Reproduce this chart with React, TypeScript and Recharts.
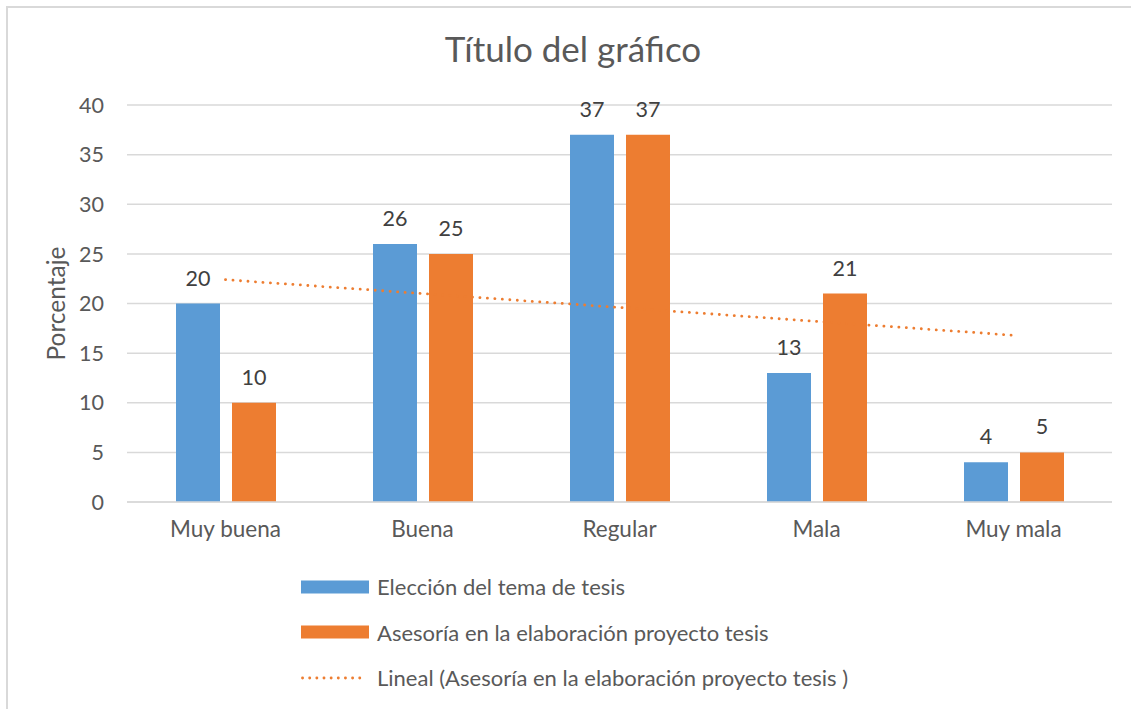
import React from 'react';
import { ComposedChart, Bar, Line, XAxis, YAxis, CartesianGrid, Legend, LabelList } from 'recharts';

// values
const categories = ['Muy buena', 'Buena', 'Regular', 'Mala', 'Muy mala'];
const eleccion = [20, 26, 37, 13, 4];
const asesoria = [10, 25, 37, 21, 5];
const lineal = [22.4, 21.0, 19.6, 18.2, 16.8];
const yTicks = [0, 5, 10, 15, 20, 25, 30, 35, 40];

const BLUE = '#5B9BD5';
const ORANGE = '#ED7D31';
const TEXT = '#595959';
const GRID = '#D9D9D9';
const FONT = 'Lato, "Open Sans", sans-serif';

const data = categories.map((name, i) => ({
  name,
  eleccion: eleccion[i],
  asesoria: asesoria[i],
  lineal: lineal[i],
}));

const legendItems = [
  { label: 'Elección del tema de tesis', color: BLUE, kind: 'box' },
  { label: 'Asesoría en la elaboración proyecto tesis', color: ORANGE, kind: 'box' },
  { label: 'Lineal (Asesoría en la elaboración proyecto tesis )', color: ORANGE, kind: 'dots' },
];

const LegendContent = () => (
  <div style={{ fontFamily: FONT, fontSize: 22, color: TEXT }}>
    {legendItems.map((it) => (
      <div key={it.label} style={{ display: 'flex', alignItems: 'center', height: 45.5 }}>
        <svg width={76} height={20} style={{ flex: 'none' }}>
          {it.kind === 'box' ? (
            <rect x={0} y={3.5} width={68} height={13} fill={it.color} />
          ) : (
            <line x1={1.5} y1={10} x2={65} y2={10} stroke={it.color} strokeWidth={2.8} strokeDasharray="0.1 7.05" strokeLinecap="round" />
          )}
        </svg>
        <span>{it.label}</span>
      </div>
    ))}
  </div>
);

const YLabel = (props: any) => {
  const vb = props.viewBox || { x: 0, y: 105, width: 127, height: 397 };
  const cy = vb.y + vb.height / 2;
  return (
    <text x={65} y={cy} transform={`rotate(-90, 65, ${cy})`} textAnchor="middle" style={{ fill: TEXT, fontSize: 24.5, fontFamily: FONT }}>
      Porcentaje
    </text>
  );
};

export default function App() {
  return (
    <div style={{ position: 'absolute', left: 0, top: 0, width: 1131, height: 709, background: '#fff', overflow: 'hidden' }}>
      <div style={{ position: 'absolute', left: 6, top: 6, width: 1140, height: 720, borderLeft: `2px solid ${GRID}`, borderTop: `2px solid ${GRID}` }} />
      <div style={{ position: 'absolute', left: 373, width: 400, top: 27, textAlign: 'center', fontFamily: FONT, fontSize: 35, color: TEXT }}>
        Título del gráfico
      </div>
      <ComposedChart
        width={1131}
        height={709}
        data={data}
        margin={{ top: 105, right: 19, left: 0, bottom: 167 }}
        barGap={12}
        style={{ position: 'absolute', left: 0, top: 0 }}
      >
        <CartesianGrid vertical={false} stroke={GRID} strokeWidth={1.5} />
        <XAxis
          dataKey="name"
          height={40}
          axisLine={{ stroke: GRID, strokeWidth: 1.5 }}
          tickLine={false}
          tickSize={0}
          tickMargin={19}
          tick={{ fill: TEXT, fontSize: 22.5, fontFamily: FONT }}
        />
        <YAxis
          width={127}
          domain={[0, 40]}
          ticks={yTicks}
          axisLine={false}
          tickLine={false}
          tickSize={0}
          tickMargin={23}
          tick={{ fill: TEXT, fontSize: 21.5, fontFamily: FONT }}
          label={{ content: YLabel }}
        />
        <Legend
          layout="horizontal"
          verticalAlign="middle"
          align="center"
          content={<LegendContent />}
          wrapperStyle={{ left: 301, top: 564, width: 640, height: 140 }}
        />
        <Bar dataKey="eleccion" name="Elección del tema de tesis" fill={BLUE} barSize={44} isAnimationActive={false}>
          <LabelList dataKey="eleccion" position="top" offset={18} fill="#404040" fontSize={21.5} fontFamily={FONT} />
        </Bar>
        <Bar dataKey="asesoria" name="Asesoría en la elaboración proyecto tesis" fill={ORANGE} barSize={44} isAnimationActive={false}>
          <LabelList dataKey="asesoria" position="top" offset={18} fill="#404040" fontSize={21.5} fontFamily={FONT} />
        </Bar>
        <Line
          dataKey="lineal"
          name="Lineal (Asesoría en la elaboración proyecto tesis )"
          stroke={ORANGE}
          strokeWidth={2.8}
          strokeDasharray="0.1 7.4"
          strokeLinecap="round"
          dot={false}
          activeDot={false}
          type="linear"
          isAnimationActive={false}
        />
      </ComposedChart>
    </div>
  );
}
